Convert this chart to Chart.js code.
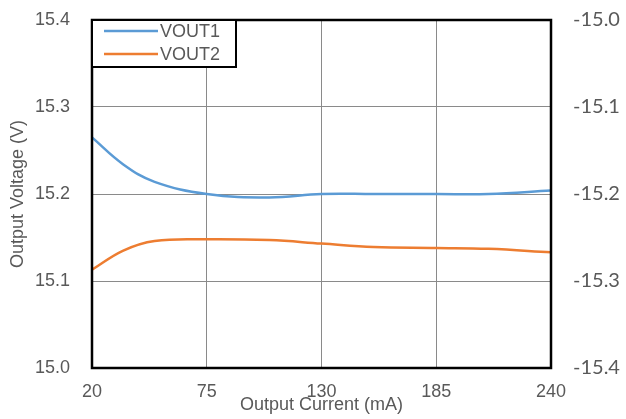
<!DOCTYPE html>
<html>
<head>
<meta charset="utf-8">
<script src="https://cdn.jsdelivr.net/npm/chart.js@4/dist/chart.umd.min.js"></script>
<style>
    body { margin: 0; background: #fff; }
</style>
</head>
<body>
<canvas id="myChart" width="626" height="419"></canvas>
<script>
    // Output current (mA) and measured output voltages
    const currents = [20, 35, 50, 75, 105, 130, 155, 185, 210, 240];
    const vout1 = [15.265, 15.234, 15.214, 15.200, 15.196, 15.200, 15.200, 15.200, 15.200, 15.204];
    const vout2 = [15.113, 15.135, 15.146, 15.148, 15.147, 15.143, 15.139, 15.138, 15.137, 15.133];

    // Axis ticks
    const xTicks = [20, 75, 130, 185, 240];
    const leftTicks = [15.0, 15.1, 15.2, 15.3, 15.4];
    const rightTicks = [-15.4, -15.3, -15.2, -15.1, -15.0];

    const textColor = '#595959';
    const gridColor = '#8a8a8a';

    function toPoints(ys) {
        return currents.map((x, i) => ({ x: x, y: ys[i] }));
    }

    // fixed axis sizes, no extra room for overhanging labels
    function fixSize(w, h) {
        return (s) => {
            if (w) s.width = w;
            if (h) s.height = h;
            s.paddingTop = 0;
            s.paddingBottom = 0;
            s.paddingLeft = 0;
            s.paddingRight = 0;
        };
    }

    // Black frame round the plot and the boxed legend in its top left corner
    const frameAndLegend = {
        id: 'frameAndLegend',
        afterDraw(chart) {
            const ctx = chart.ctx;
            const a = chart.chartArea;
            ctx.save();
            ctx.strokeStyle = '#000';
            ctx.lineWidth = 2.5;
            ctx.strokeRect(a.left, a.top, a.right - a.left, a.bottom - a.top);

            const bx = a.left, by = a.top, bw = 144, bh = 47;
            ctx.fillStyle = '#fff';
            ctx.fillRect(bx, by, bw, bh);
            ctx.lineWidth = 2;
            ctx.strokeRect(bx, by, bw, bh);

            ctx.font = '18px "Liberation Sans", Arial, sans-serif';
            ctx.textBaseline = 'middle';
            chart.data.datasets.forEach((ds, i) => {
                const y = by + 11 + i * 23;
                ctx.strokeStyle = ds.borderColor;
                ctx.lineWidth = 2.5;
                ctx.beginPath();
                ctx.moveTo(bx + 12, y);
                ctx.lineTo(bx + 66, y);
                ctx.stroke();
                ctx.fillStyle = textColor;
                ctx.fillText(ds.label, bx + 68, y + 1);
            });
            ctx.restore();
        }
    };

    var ctx = document.getElementById('myChart').getContext('2d');
    var chart = new Chart(ctx, {
        type: 'line',
        data: {
            datasets: [
                {
                    label: 'VOUT1',
                    data: toPoints(vout1),
                    borderColor: '#5B9BD5',
                    borderWidth: 2.5,
                    pointRadius: 0,
                    tension: 0.4,
                    yAxisID: 'y'
                },
                {
                    label: 'VOUT2',
                    data: toPoints(vout2),
                    borderColor: '#ED7D31',
                    borderWidth: 2.5,
                    pointRadius: 0,
                    tension: 0.4,
                    yAxisID: 'y'
                }
            ]
        },
        options: {
            responsive: false,
            animation: false,
            layout: { padding: { top: 20, left: 0, right: 0, bottom: 0 } },
            plugins: {
                legend: { display: false },
                tooltip: { enabled: false }
            },
            scales: {
                x: {
                    type: 'linear',
                    min: 20,
                    max: 240,
                    afterBuildTicks: (s) => { s.ticks = xTicks.map(v => ({ value: v })); },
                    afterFit: fixSize(0, 51),
                    grid: { color: gridColor, lineWidth: 1, drawTicks: false },
                    border: { display: false },
                    ticks: {
                        padding: 13,
                        color: textColor,
                        font: { family: '"Liberation Sans", Arial, sans-serif', size: 18 },
                        maxRotation: 0
                    },
                    title: {
                        display: true,
                        text: 'Output Current (mA)',
                        color: textColor,
                        font: { family: '"Liberation Sans", Arial, sans-serif', size: 18 },
                        padding: { top: 0, bottom: 3 }
                    }
                },
                y: {
                    position: 'left',
                    min: 15.0,
                    max: 15.4,
                    afterBuildTicks: (s) => { s.ticks = leftTicks.map(v => ({ value: v })); },
                    afterFit: fixSize(92, 0),
                    grid: { color: gridColor, lineWidth: 1, drawTicks: false },
                    border: { display: false },
                    ticks: {
                        padding: 22,
                        color: textColor,
                        font: { family: '"Liberation Sans", Arial, sans-serif', size: 18 },
                        callback: (v) => v.toFixed(1)
                    },
                    title: {
                        display: true,
                        text: 'Output Voltage (V)',
                        color: textColor,
                        font: { family: '"Liberation Sans", Arial, sans-serif', size: 18 },
                        padding: { top: 7, bottom: 0 }
                    }
                },
                y2: {
                    position: 'right',
                    min: -15.4,
                    max: -15.0,
                    afterBuildTicks: (s) => { s.ticks = rightTicks.map(v => ({ value: v })); },
                    afterFit: fixSize(75, 0),
                    grid: { display: false, drawTicks: false },
                    border: { display: false },
                    ticks: {
                        padding: 22,
                        color: textColor,
                        font: { family: 'Lato, "Open Sans", sans-serif', size: 20 },
                        callback: (v) => v.toFixed(1)
                    }
                }
            }
        },
        plugins: [frameAndLegend]
    });
</script>
</body>
</html>
